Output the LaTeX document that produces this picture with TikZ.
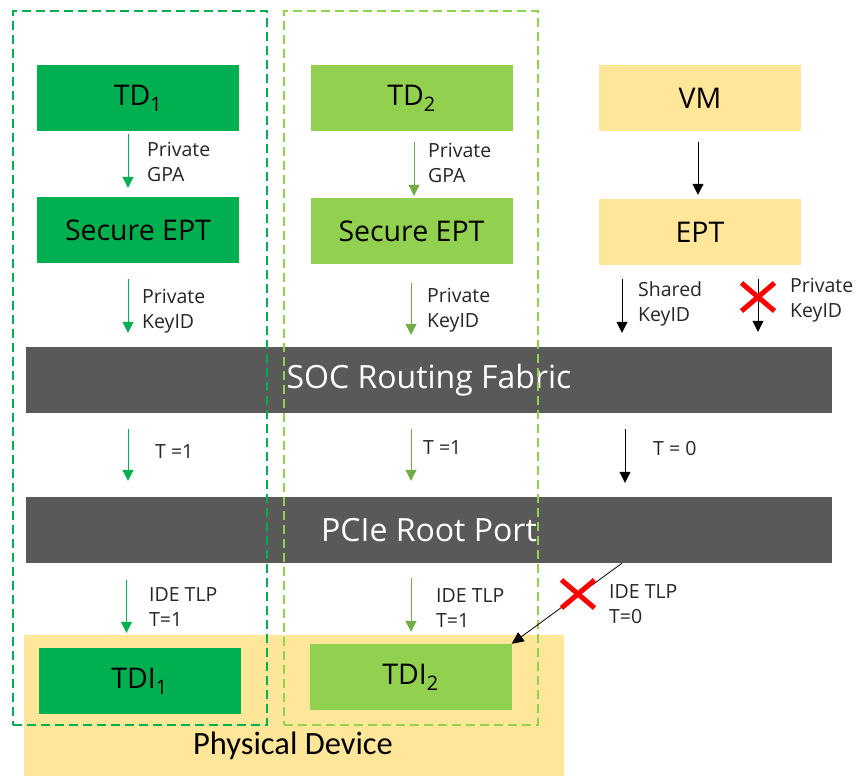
\documentclass[tikz,border=0pt]{standalone}
\usepackage{fontspec}
\setmainfont{Open Sans}
\newfontfamily\calfont{Carlito}
\usetikzlibrary{arrows.meta,shapes.misc}
\definecolor{dg}{HTML}{00B050}
\definecolor{lg}{HTML}{92D050}
\definecolor{lgarrow}{HTML}{70AD47}
\definecolor{yl}{HTML}{FFE699}
\definecolor{barc}{HTML}{595959}
\definecolor{txt}{HTML}{262626}
\begin{document}
\begin{tikzpicture}[x=1pt,y=-1pt,
  box/.style={minimum width=202pt, minimum height=66pt, inner sep=0pt, text=black, font=\fontsize{28.5}{32}\selectfont},
  barbox/.style={fill=barc, minimum width=806pt, minimum height=66pt, inner sep=0pt, text=white, font=\fontsize{32}{36}\selectfont},
  lbl/.style={font=\fontsize{19.5}{25.5}\selectfont, align=left, anchor=west, inner sep=0pt, text=txt},
  arr/.style={-{Triangle[width=11pt,length=11pt]}, line width=1pt},
  grp/.style={dashed, dash pattern=on 9pt off 5pt, line width=1.8pt, minimum width=254pt, minimum height=714pt, anchor=north west, inner sep=0pt},
  xmark/.style={cross out, draw=red, line width=5pt, minimum width=28pt, minimum height=23pt, inner sep=0pt},
]
\useasboundingbox (0,0) rectangle (857,776);
\fill[white] (0,0) rectangle (857,776);

% physical device
\node[fill=yl, minimum width=540pt, minimum height=141pt, inner sep=0pt, anchor=north west] (phys) at (24,635) {};
\node[font=\calfont\fontsize{32.5}{36}\selectfont, text=black] (physlbl) at (293,746) {Physical Device};

% boxes
\node[box, fill=dg] (td1) at (138,98) {TD\textsubscript{1}};
\node[box, fill=lg] (td2) at (411.5,98) {TD\textsubscript{2}};
\node[box, fill=yl] (vm) at (700,98) {VM};
\node[box, fill=dg] (sept1) at (138,230) {Secure EPT};
\node[box, fill=lg] (sept2) at (411.5,231) {Secure EPT};
\node[box, fill=yl] (ept) at (700,232) {EPT};
\node[box, fill=dg] (tdi1) at (139.5,681) {TDI\textsubscript{1}};
\node[box, fill=lg] (tdi2) at (410.5,677) {TDI\textsubscript{2}};

% bars
\node[barbox] (soc) at (429,380) {SOC Routing Fabric};
\node[barbox] (pcie) at (429,530) {PCIe Root Port};

% dashed groups
\node[grp, draw=dg] (grp1) at (12,10) {};
\node[grp, draw=lg] (grp2) at (283,10) {};

% column 1 arrows
\draw[arr, dg, shorten <=3pt, shorten >=9pt] ([xshift=-10pt]td1.south) -- ([xshift=-10pt]td1.south |- sept1.north);
\draw[arr, dg, shorten <=16pt, shorten >=14pt] ([xshift=-10pt]sept1.south) -- ([xshift=-10pt]sept1.south |- soc.north);
\draw[arr, dg, shorten <=16pt, shorten >=16pt] ([xshift=-10pt]sept1.south |- soc.south) -- ([xshift=-10pt]sept1.south |- pcie.north);
\draw[arr, dg, shorten <=17pt, shorten >=15pt] ([xshift=-13pt]tdi1.north |- pcie.south) -- ([xshift=-13pt]tdi1.north);

% column 2 arrows
\draw[arr, lgarrow, shorten <=11pt, shorten >=2pt] ([xshift=2.5pt]td2.south) -- ([xshift=2.5pt]td2.south |- sept2.north);
\draw[arr, lgarrow, shorten <=19pt, shorten >=12pt] ([xshift=-0.5pt]sept2.south) -- ([xshift=-0.5pt]sept2.south |- soc.north);
\draw[arr, lgarrow, shorten <=16pt, shorten >=16pt] ([xshift=-0.5pt]sept2.south |- soc.south) -- ([xshift=-0.5pt]sept2.south |- pcie.north);
\draw[arr, lgarrow, shorten <=15pt, shorten >=12pt] ([xshift=0.5pt]tdi2.north |- pcie.south) -- ([xshift=0.5pt]tdi2.north);

% column 3 arrows
\draw[arr, black, shorten <=11pt, shorten >=4pt] ([xshift=-2pt]vm.south) -- ([xshift=-2pt]vm.south |- ept.north);
\coordinate (shx) at (622,0);
\coordinate (pkx) at (758,0);
\coordinate (t0x) at (625,0);
\draw[arr, black, shorten <=14pt, shorten >=14pt] (ept.south -| shx) -- (soc.north -| shx);
\draw[arr, black, shorten <=14pt, shorten >=15pt] (ept.south -| pkx) -- (soc.north -| pkx);
\draw[arr, black, shorten <=16pt, shorten >=14pt] (soc.south -| t0x) -- (pcie.north -| t0x);
\draw[-{Triangle[width=11pt,length=12pt]}, line width=0.8pt, black] (pcie.south -| shx) -- (tdi2.north east);

% crosses
\node[xmark] (x1) at (758,297) {};
\node[xmark] (x2) at (578,594) {};

% labels
\node[lbl] (l1) at (147,162) {Private\\GPA};
\node[lbl] (l2) at (428,163) {Private\\GPA};
\node[lbl] (l3) at (142,311) {Private\\KeyID};
\node[lbl] (l4) at (427,310) {Private\\KeyID};
\node[lbl] (l5) at (638,304) {Shared\\KeyID};
\node[lbl] (l6) at (790,300) {Private\\KeyID};
\node[lbl] (l7) at (155,452) {T =1};
\node[lbl] (l8) at (423,448) {T =1};
\node[lbl] (l9) at (653,449) {T = 0};
\node[lbl] (l10) at (149,607) {IDE TLP\\T=1};
\node[lbl] (l11) at (436,608) {IDE TLP\\T=1};
\node[lbl] (l12) at (609,604) {IDE TLP\\T=0};
\end{tikzpicture}
\end{document}
